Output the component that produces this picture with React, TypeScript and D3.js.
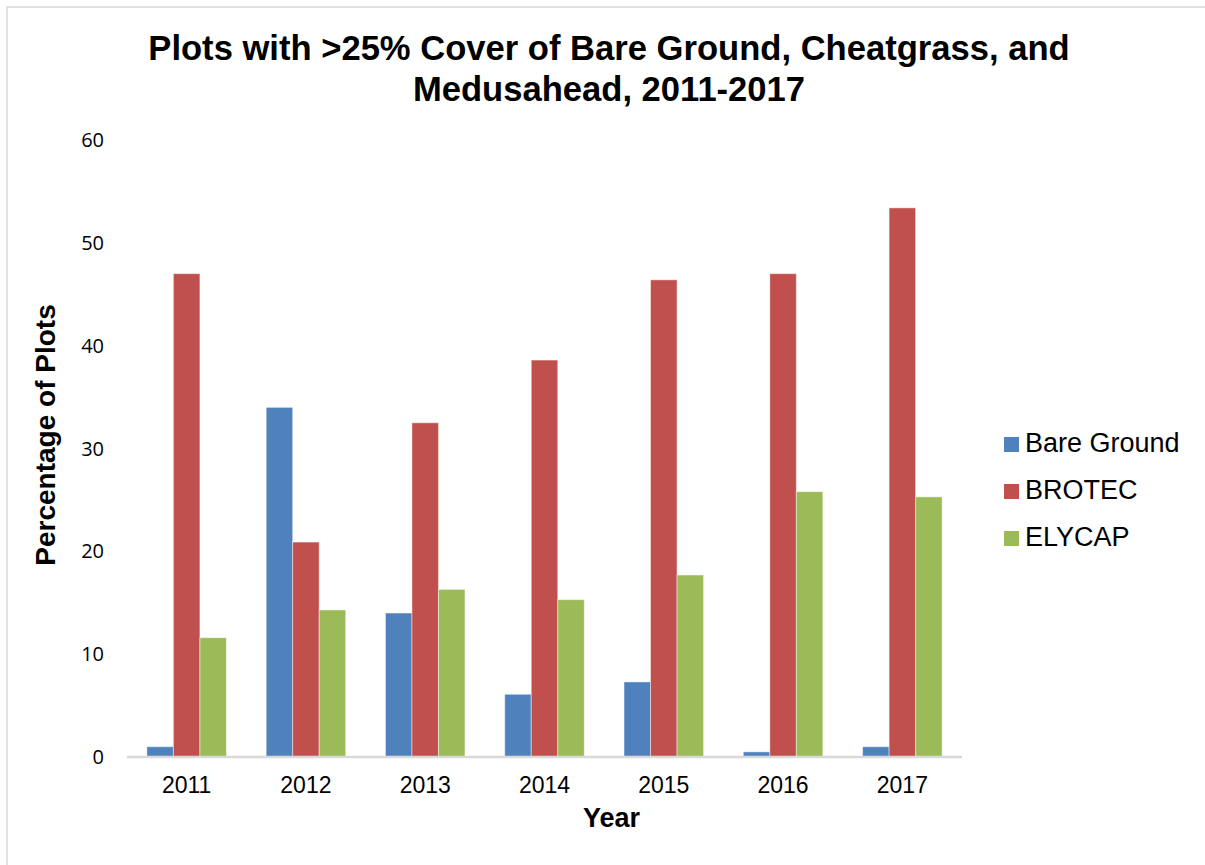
import React from "react";
import * as d3 from "d3";

const years = ["2011", "2012", "2013", "2014", "2015", "2016", "2017"];
const seriesNames = ["Bare Ground", "BROTEC", "ELYCAP"];
const bareGround = [1.0, 34.0, 14.0, 6.1, 7.3, 0.5, 1.0];
const brotec = [47.0, 20.9, 32.5, 38.6, 46.4, 47.0, 53.4];
const elycap = [11.6, 14.3, 16.3, 15.3, 17.7, 25.8, 25.3];
const seriesColors = ["#4f81bd", "#c0504d", "#9bbb59"];
const yTicks = [0, 10, 20, 30, 40, 50, 60];

const W = 1205;
const H = 865;
const plot = { left: 127, right: 962, top: 140, bottom: 757 };

export default function App() {
  const seriesValues = [bareGround, brotec, elycap];

  const x0 = d3
    .scaleBand<string>()
    .domain(years)
    .range([plot.left, plot.right])
    .paddingInner(1 / 3)
    .paddingOuter(1 / 6);
  const x1 = d3
    .scaleBand<string>()
    .domain(seriesNames)
    .range([0, x0.bandwidth()]);
  const y = d3.scaleLinear().domain([0, 60]).range([plot.bottom, plot.top]);

  const arial = "Arial, 'Liberation Sans', sans-serif";

  return (
    <svg
      width={W}
      height={H}
      style={{ position: "absolute", left: 0, top: 0, background: "#fff" }}
    >
      <rect x={7} y={7} width={1400} height={1000} fill="#fff" stroke="#d9d9d9" strokeWidth={1.5} />

      {/* title */}
      <text
        x={609}
        textAnchor="middle"
        fontFamily={arial}
        fontWeight="bold"
        fontSize={34.6}
        fill="#000"
      >
        <tspan x={609} y={60}>Plots with &gt;25% Cover of Bare Ground, Cheatgrass, and</tspan>
        <tspan x={609} y={101}>Medusahead, 2011-2017</tspan>
      </text>

      {/* y tick labels */}
      {yTicks.map((t) => (
        <text
          key={t}
          x={104}
          y={y(t)}
          dy="0.35em"
          textAnchor="end"
          fontFamily="'Open Sans', sans-serif"
          fontSize={20}
          fill="#000"
        >
          {t}
        </text>
      ))}

      {/* bars */}
      {years.map((yr, i) => (
        <g key={yr} transform={`translate(${x0(yr)},0)`}>
          {seriesNames.map((s, j) => {
            const v = seriesValues[j][i];
            return (
              <rect
                key={s}
                x={x1(s)}
                y={y(v)}
                width={x1.bandwidth()}
                height={y(0) - y(v)}
                fill={seriesColors[j]}
                stroke="#ffffff"
                strokeOpacity={0.45}
                strokeWidth={1}
              />
            );
          })}
        </g>
      ))}

      {/* category axis */}
      <line
        x1={plot.left}
        x2={plot.right}
        y1={y(0)}
        y2={y(0)}
        stroke="#d9d9d9"
        strokeWidth={2.5}
      />
      {years.map((yr) => (
        <text
          key={yr}
          x={(x0(yr) as number) + x0.bandwidth() / 2}
          y={793}
          textAnchor="middle"
          fontFamily={arial}
          fontSize={23}
          fill="#000"
        >
          {yr}
        </text>
      ))}

      {/* axis titles */}
      <text
        x={611.5}
        y={827}
        textAnchor="middle"
        fontFamily={arial}
        fontWeight="bold"
        fontSize={27}
        fill="#000"
      >
        Year
      </text>
      <text
        transform="translate(55,435) rotate(-90)"
        textAnchor="middle"
        fontFamily={arial}
        fontWeight="bold"
        fontSize={28}
        fill="#000"
      >
        Percentage of Plots
      </text>

      {/* legend */}
      {seriesNames.map((s, j) => (
        <g key={s} transform={`translate(1004,${437 + j * 47})`}>
          <rect width={15} height={15} fill={seriesColors[j]} />
          <text
            x={21}
            y={15}
            fontFamily={arial}
            fontSize={27}
            fill="#000"
          >
            {s}
          </text>
        </g>
      ))}
    </svg>
  );
}
